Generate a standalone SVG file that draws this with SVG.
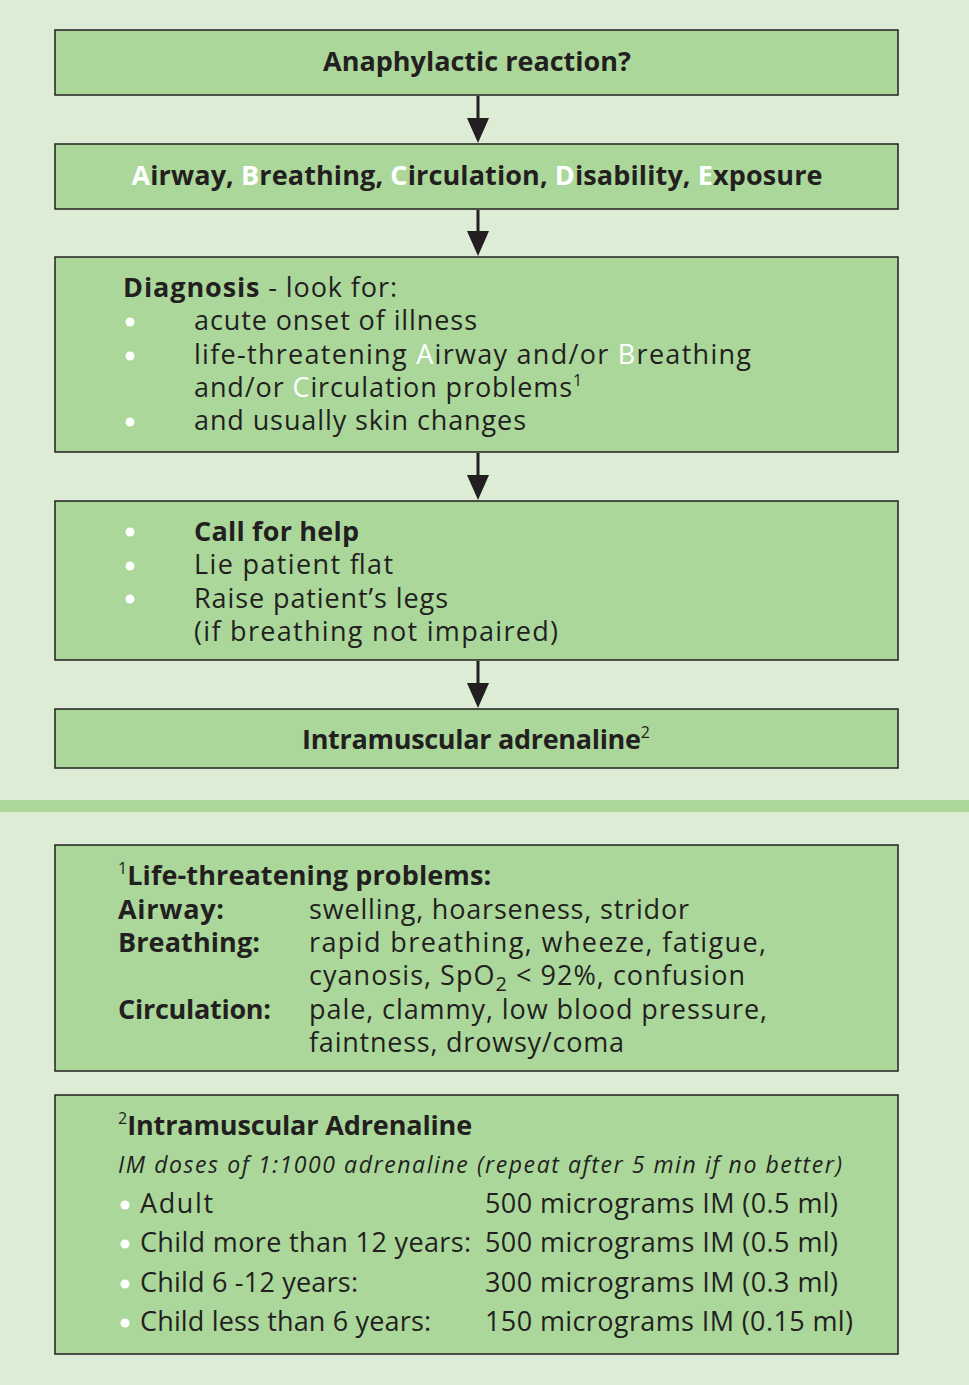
<svg xmlns="http://www.w3.org/2000/svg" width="969" height="1385" viewBox="0 0 969 1385">
<defs>
<style>
.box{fill:#abd79b;stroke:#231f20;stroke-width:1.5}
text{font-family:"Open Sans","Liberation Sans",sans-serif;fill:#231f20;font-size:27px}
.b{font-weight:bold}
.w{fill:#ffffff}
.it{font-style:italic;font-size:23px}
.sup{font-size:16px}
.bul{fill:#ffffff}
.con{stroke:#231f20;stroke-width:3;fill:none}
</style>
</defs>
<rect width="969" height="1385" fill="#ddedd5"/>
<rect x="0" y="800" width="969" height="12" fill="#abd79b"/>
<g id="connectors">
<line class="con" x1="478" y1="96" x2="478" y2="125"/>
<path d="M467,118 L478,143 L489,118 Z" fill="#231f20"/>
<line class="con" x1="478" y1="210" x2="478" y2="238"/>
<path d="M467,231 L478,256 L489,231 Z" fill="#231f20"/>
<line class="con" x1="478" y1="453" x2="478" y2="482"/>
<path d="M467,475 L478,500 L489,475 Z" fill="#231f20"/>
<line class="con" x1="478" y1="661" x2="478" y2="690"/>
<path d="M467,683 L478,708 L489,683 Z" fill="#231f20"/>
</g>
<g id="n1">
<rect class="box" x="55" y="30" width="843" height="65"/>
<text class="b" x="477" y="71" text-anchor="middle">Anaphylactic reaction?</text>
</g>
<g id="n2">
<rect class="box" x="55" y="144" width="843" height="65"/>
<text class="b" x="477" y="185" text-anchor="middle" textLength="691" lengthAdjust="spacing"><tspan class="w">A</tspan>irway, <tspan class="w">B</tspan>reathing, <tspan class="w">C</tspan>irculation, <tspan class="w">D</tspan>isability, <tspan class="w">E</tspan>xposure</text>
</g>
<g id="n3">
<rect class="box" x="55" y="257" width="843" height="195"/>
<text x="123" y="297" textLength="274" lengthAdjust="spacing"><tspan class="b">Diagnosis</tspan> - look for:</text>
<circle class="bul" cx="130" cy="322" r="4.5"/>
<text x="194" y="330" textLength="283" lengthAdjust="spacing">acute onset of illness</text>
<circle class="bul" cx="130" cy="356" r="4.5"/>
<text x="194" y="364" textLength="557" lengthAdjust="spacing">life-threatening <tspan class="w">A</tspan>irway and/or <tspan class="w">B</tspan>reathing</text>
<text x="194" y="397"><tspan textLength="378" lengthAdjust="spacing">and/or <tspan class="w">C</tspan>irculation problems</tspan><tspan class="sup" dy="-11">1</tspan></text>
<circle class="bul" cx="130" cy="422" r="4.5"/>
<text x="194" y="430" textLength="332" lengthAdjust="spacing">and usually skin changes</text>
</g>
<g id="n4">
<rect class="box" x="55" y="501" width="843" height="159"/>
<circle class="bul" cx="130" cy="532" r="4.5"/>
<text class="b" x="194" y="541" textLength="165" lengthAdjust="spacing">Call for help</text>
<circle class="bul" cx="130" cy="566" r="4.5"/>
<text x="194" y="574" textLength="199" lengthAdjust="spacing">Lie patient flat</text>
<circle class="bul" cx="130" cy="599" r="4.5"/>
<text x="194" y="608" textLength="254" lengthAdjust="spacing">Raise patient’s legs</text>
<text x="194" y="641" textLength="364" lengthAdjust="spacing">(if breathing not impaired)</text>
</g>
<g id="n5">
<rect class="box" x="55" y="709" width="843" height="59"/>
<text class="b" x="302" y="749"><tspan textLength="339" lengthAdjust="spacing">Intramuscular adrenaline</tspan><tspan class="sup" dy="-11" font-weight="normal">2</tspan></text>
</g>
<g id="n6">
<rect class="box" x="55" y="845" width="843" height="226"/>
<text x="118" y="885"><tspan class="sup" dy="-11">1</tspan><tspan class="b" dy="11" textLength="364" lengthAdjust="spacing">Life-threatening problems:</tspan></text>
<text class="b" x="118" y="919" textLength="106" lengthAdjust="spacing">Airway:</text>
<text x="309" y="919" textLength="380" lengthAdjust="spacing">swelling, hoarseness, stridor</text>
<text class="b" x="118" y="952" textLength="142" lengthAdjust="spacing">Breathing:</text>
<text x="309" y="952" textLength="457" lengthAdjust="spacing">rapid breathing, wheeze, fatigue,</text>
<text x="309" y="985" textLength="436" lengthAdjust="spacing">cyanosis, SpO<tspan font-size="20" dy="6">2</tspan><tspan dy="-6"> &lt; 92%, confusion</tspan></text>
<text class="b" x="118" y="1019" textLength="153" lengthAdjust="spacing">Circulation:</text>
<text x="309" y="1019" textLength="458" lengthAdjust="spacing">pale, clammy, low blood pressure,</text>
<text x="309" y="1052" textLength="315" lengthAdjust="spacing">faintness, drowsy/coma</text>
</g>
<g id="n7">
<rect class="box" x="55" y="1095" width="843" height="259"/>
<text x="118" y="1135"><tspan class="sup" dy="-11">2</tspan><tspan class="b" dy="11" textLength="345" lengthAdjust="spacing">Intramuscular Adrenaline</tspan></text>
<text class="it" x="118" y="1173" textLength="724" lengthAdjust="spacing">IM doses of 1:1000 adrenaline (repeat after 5 min if no better)</text>
<circle class="bul" cx="125" cy="1205" r="4.5"/>
<text x="140" y="1213" textLength="73" lengthAdjust="spacing">Adult</text>
<text x="485" y="1213" textLength="353" lengthAdjust="spacing">500 micrograms IM (0.5 ml)</text>
<circle class="bul" cx="125" cy="1244" r="4.5"/>
<text x="140" y="1252" textLength="331" lengthAdjust="spacing">Child more than 12 years:</text>
<text x="485" y="1252" textLength="353" lengthAdjust="spacing">500 micrograms IM (0.5 ml)</text>
<circle class="bul" cx="125" cy="1284" r="4.5"/>
<text x="140" y="1292" textLength="218" lengthAdjust="spacing">Child 6 -12 years:</text>
<text x="485" y="1292" textLength="353" lengthAdjust="spacing">300 micrograms IM (0.3 ml)</text>
<circle class="bul" cx="125" cy="1323" r="4.5"/>
<text x="140" y="1331" textLength="291" lengthAdjust="spacing">Child less than 6 years:</text>
<text x="485" y="1331" textLength="368" lengthAdjust="spacing">150 micrograms IM (0.15 ml)</text>
</g>
</svg>
